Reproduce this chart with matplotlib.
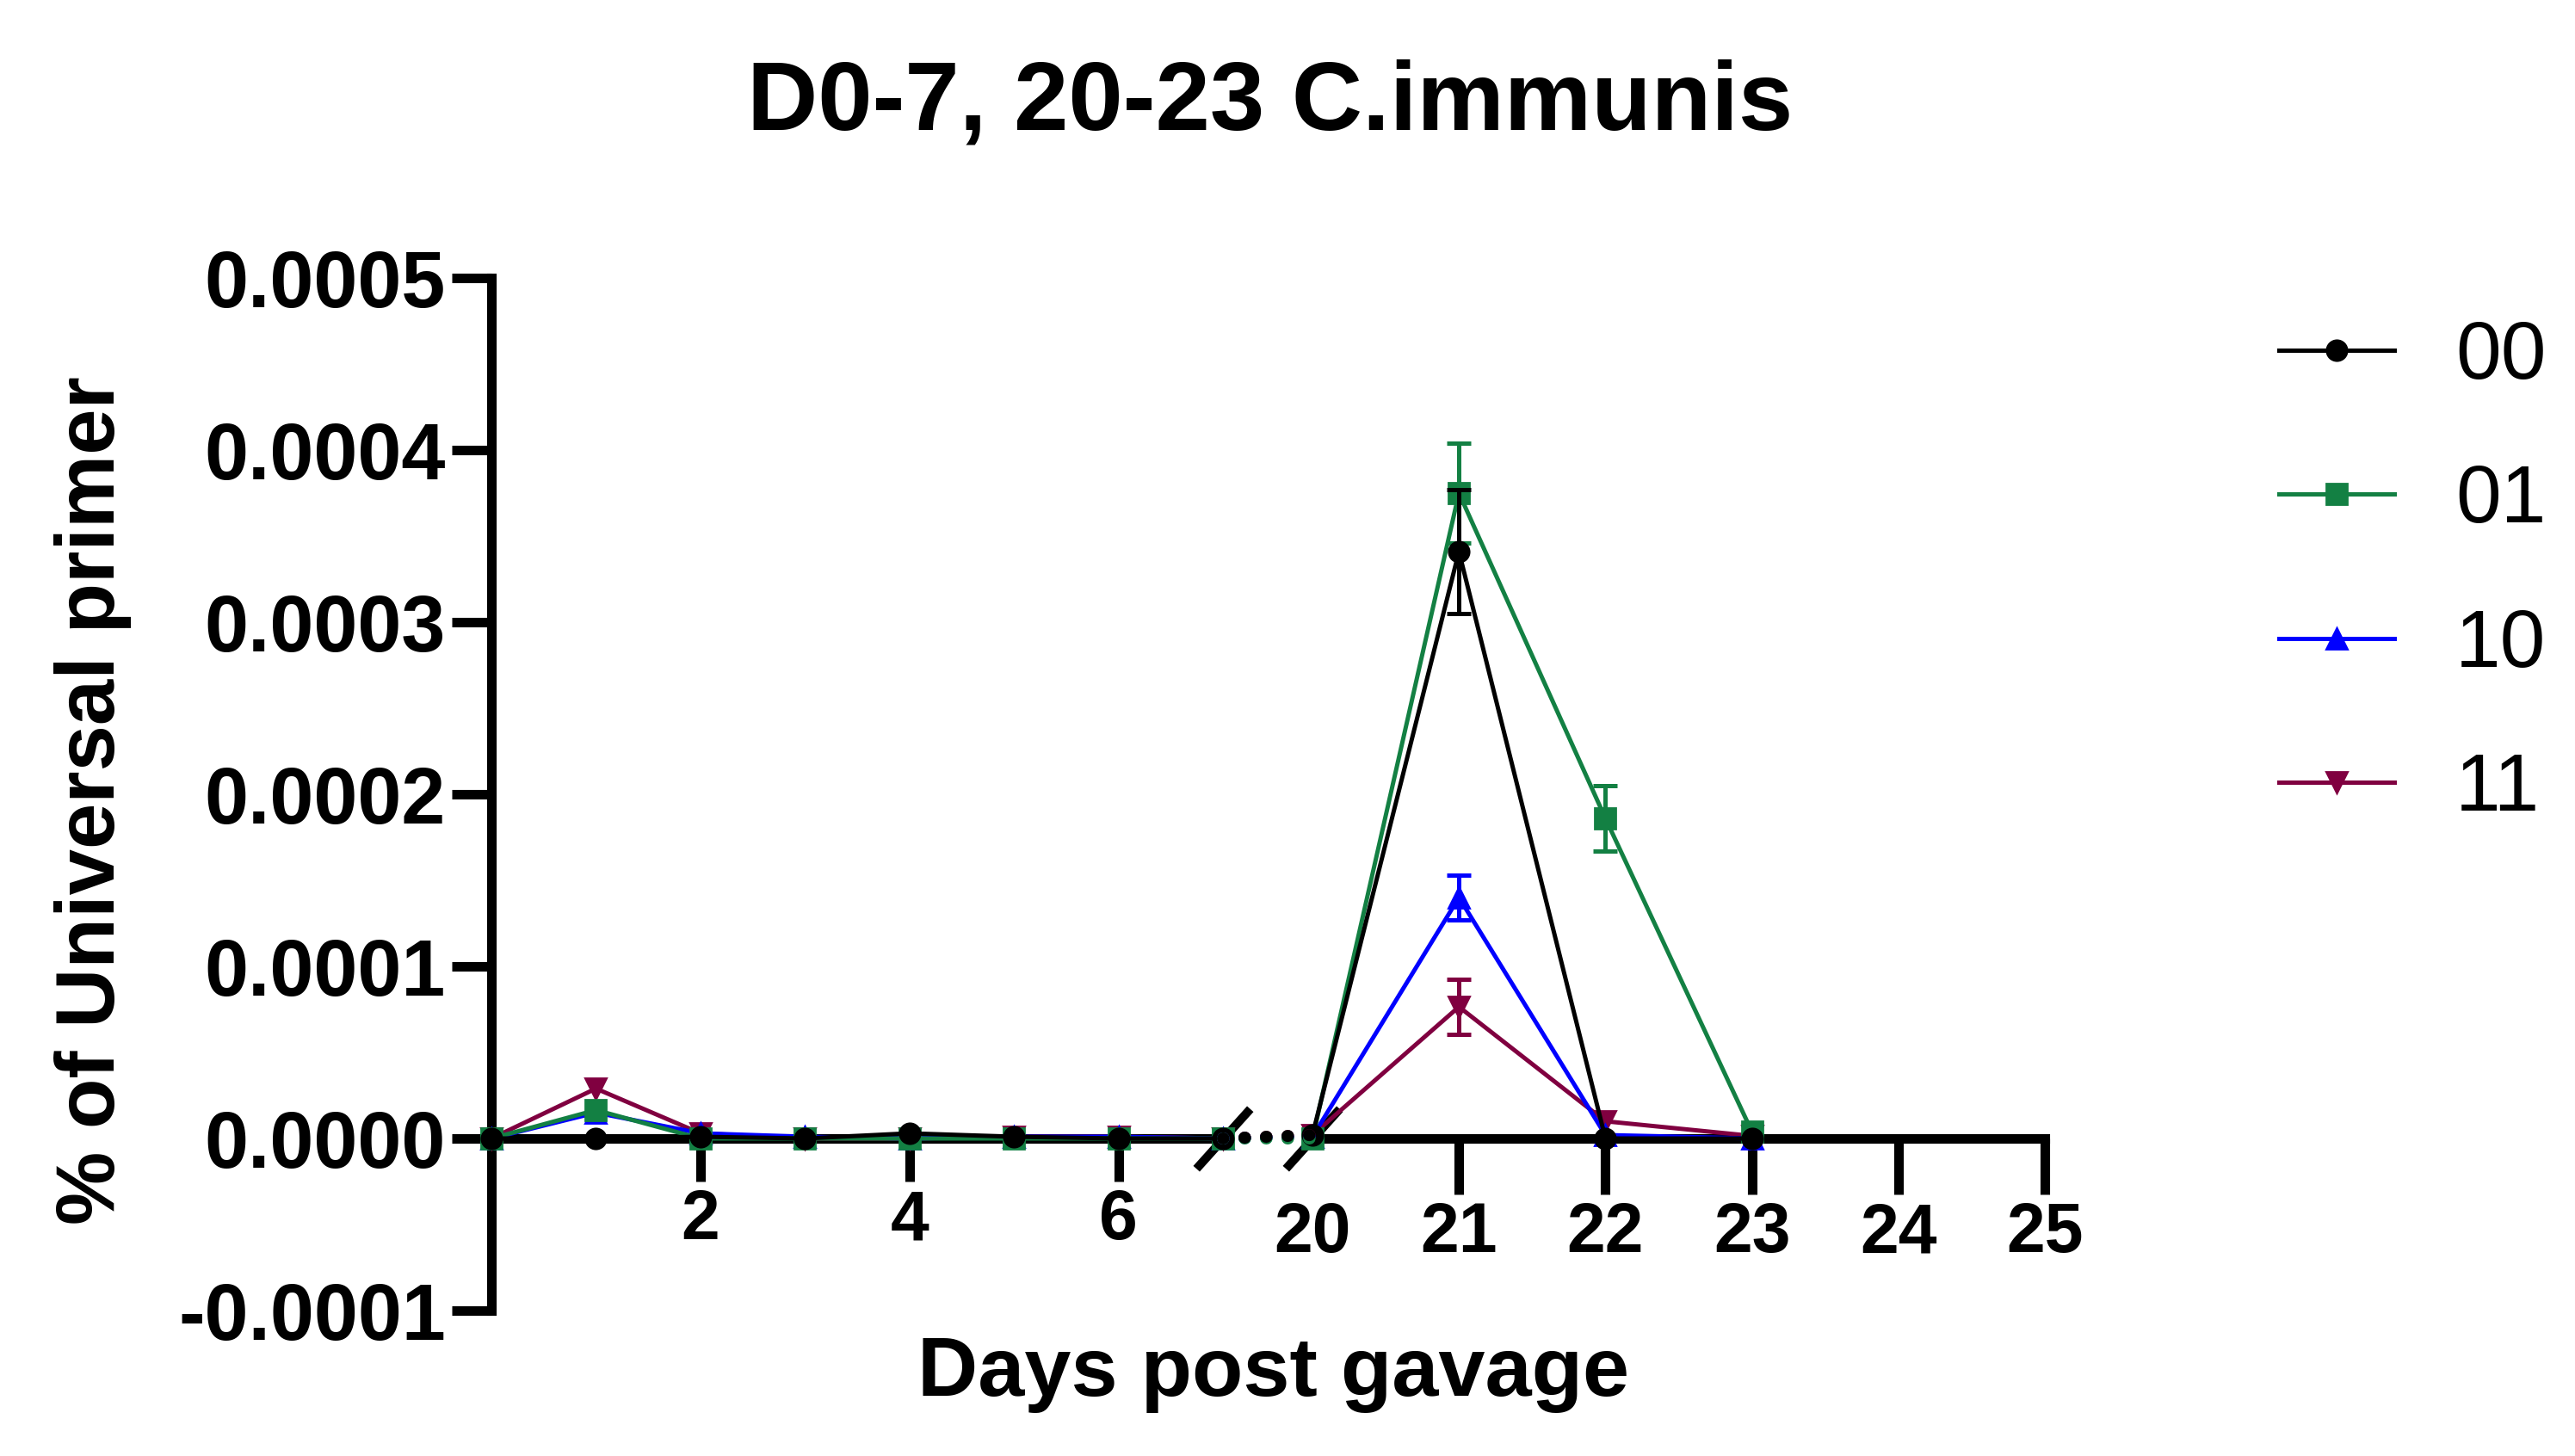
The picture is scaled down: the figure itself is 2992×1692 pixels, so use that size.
import numpy as np
import matplotlib
matplotlib.use("Agg")
import matplotlib.pyplot as plt
from matplotlib.patches import ConnectionPatch

plt.rcParams['font.family'] = ['Liberation Sans', 'DejaVu Sans']
plt.rcParams['font.weight'] = 'bold'
plt.rcParams['axes.unicode_minus'] = False

# days post gavage, two segments of a broken x axis
days_early = [0, 1, 2, 3, 4, 5, 6, 7]
days_late = [20, 21, 22, 23]

groups = ['00', '01', '10', '11']
colors = {'00': '#000000', '01': '#138043', '10': '#0000ff', '11': '#800040'}
markers = {'00': 'o', '01': 's', '10': '^', '11': 'v'}

# % of Universal primer, in units of 1e-4
early_mean = {
    '00': [0, 0, 0.01, 0, 0.03, 0.01, 0, 0],
    '01': [0, 0.165, 0, 0, 0, 0, 0, 0],
    '10': [0, 0.15, 0.03, 0.01, 0, 0.01, 0.01, 0],
    '11': [0, 0.29, 0.03, 0, 0, 0.01, 0.01, 0],
}
late_mean = {
    '00': [0.02, 3.41, 0.0, 0.0],
    '01': [0.0, 3.75, 1.86, 0.04],
    '10': [0.01, 1.40, 0.02, 0.0],
    '11': [0.02, 0.765, 0.10, 0.015],
}
late_sem = {
    '00': [0, 0.36, 0, 0],
    '01': [0, 0.29, 0.19, 0],
    '10': [0, 0.13, 0, 0],
    '11': [0, 0.16, 0, 0],
}
unit = 1e-4

yticks = [-0.0001, 0.0, 0.0001, 0.0002, 0.0003, 0.0004, 0.0005]

W, H = 2992, 1692
fig = plt.figure(figsize=(W / 200, H / 200), dpi=200)
ax1 = fig.add_axes([571 / W, 1 - 1523 / H, 850 / W, 1200 / H])
ax2 = fig.add_axes([1525 / W, 1 - 1523 / H, 851 / W, 1200 / H])

ms = 8.4
lw = 1.8
handles = {}
for z, g in enumerate(['11', '10', '01', '00']):
    c = colors[g]
    e = np.array(early_mean[g]) * unit
    m = np.array(late_mean[g]) * unit
    s = np.array(late_sem[g]) * unit
    ax1.plot(days_early, e, color=c, marker=markers[g], ms=ms, lw=lw,
             clip_on=False, zorder=3 + z)
    ln, = ax2.plot(days_late, m, color=c, marker=markers[g], ms=ms, lw=lw,
                   clip_on=False, zorder=3 + z)
    handles[g] = ln
    mask = s > 0
    ax2.errorbar(np.array(days_late)[mask], m[mask], yerr=s[mask], fmt='none',
                 ecolor=c, elinewidth=1.8, capsize=5, capthick=1.8,
                 zorder=3 + z)
    # dotted connection across the axis break
    con = ConnectionPatch(xyA=(days_early[-1], e[-1]), coordsA=ax1.transData,
                          xyB=(days_late[0], m[0]), coordsB=ax2.transData,
                          color=c, lw=5, linestyle=(0, (0.05, 1.75)),
                          capstyle='round', zorder=3 + z)
    fig.add_artist(con)

# break marks
slash = [(-0.9, -1), (0.9, 1)]
ax1.plot([days_early[-1]], [0], marker=slash, ms=25, mew=3.6, color='black',
         clip_on=False, zorder=2)
ax2.plot([days_late[0]], [0], marker=slash, ms=25, mew=3.6, color='black',
         clip_on=False, zorder=2)

for ax in (ax1, ax2):
    ax.set_ylim(-0.0001, 0.0005)
    ax.spines['top'].set_visible(False)
    ax.spines['right'].set_visible(False)
    ax.spines['bottom'].set_position(('data', 0))
    ax.spines['bottom'].set_linewidth(4)
    ax.patch.set_alpha(0)

ax1.set_xlim(days_early[0], days_early[-1])
ax2.set_xlim(days_late[0], 25)

ax1.spines['left'].set_linewidth(4)
ax1.set_yticks(yticks)
ax1.set_yticklabels([f'{v:.4f}' for v in yticks])
ax1.tick_params(axis='y', length=16.6, width=4, labelsize=33, pad=2.5)
ax1.set_xticks([2, 4, 6])
ax1.tick_params(axis='x', length=18, width=4, labelsize=29, pad=3)

ax2.spines['left'].set_visible(False)
ax2.set_yticks([])
ax2.set_xticks([20, 21, 22, 23, 24, 25])
ax2.tick_params(axis='x', length=23.4, width=4, labelsize=29, pad=3)
ax2.xaxis.get_major_ticks()[0].tick1line.set_visible(False)

fig.text(1476 / W, 1 - 150 / H, 'D0-7, 20-23 C.immunis', ha='center',
         va='baseline', fontsize=41, fontweight='bold')
fig.text(1480 / W, 1 - 1622 / H, 'Days post gavage', ha='center',
         va='baseline', fontsize=35, fontweight='bold')
fig.text(108 / W, 1 - 930 / H, '% of Universal primer', rotation=90,
         ha='center', va='center', fontsize=34.5, fontweight='bold')

fig.legend([handles[g] for g in groups], groups, loc='upper left',
           bbox_to_anchor=(2648 / W, 1 - 371 / H), frameon=False,
           prop={'size': 34, 'weight': 'normal'}, handlelength=1.42,
           handletextpad=0.75, labelspacing=0.83, borderpad=0,
           borderaxespad=0)

fig.savefig('out.png', dpi=200)
